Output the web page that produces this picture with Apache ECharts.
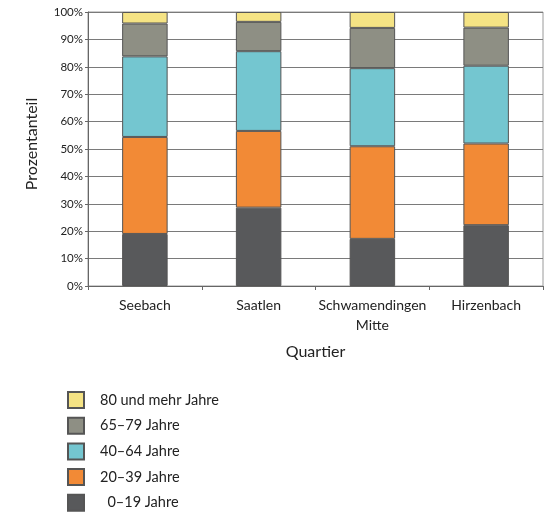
<!DOCTYPE html>
<html>
<head>
<meta charset="utf-8">
<script src="https://cdn.jsdelivr.net/npm/echarts@6/dist/echarts.min.js"></script>
<style>
html,body{margin:0;padding:0;background:#fff;}
#chart{width:546px;height:514px;}
</style>
</head>
<body>
<div id="chart"></div>
<script>
var categories = ['Seebach', 'Saatlen', 'Schwamendingen\nMitte', 'Hirzenbach'];
var yTicks = [0, 10, 20, 30, 40, 50, 60, 70, 80, 90, 100];
var age0_19 = [19.0, 28.6, 17.2, 22.2];
var age20_39 = [35.4, 28.0, 33.8, 29.8];
var age40_64 = [29.4, 29.1, 28.5, 28.4];
var age65_79 = [12.0, 10.7, 14.7, 13.9];
var age80plus = [4.2, 3.6, 5.8, 5.7];
var seriesNames = ['  0\u201319 Jahre', '20\u201339 Jahre', '40\u201364 Jahre', '65\u201379 Jahre', '80 und mehr Jahre'];
var seriesColors = ['#58595b', '#f28a36', '#74c6d0', '#8e8f84', '#f5e384'];
var seriesData = [age0_19, age20_39, age40_64, age65_79, age80plus];

var font = 'Lato, "Open Sans", sans-serif';
var chart = echarts.init(document.getElementById('chart'), null, {renderer: 'canvas'});
var series = seriesData.map(function (d, i) {
  return {
    name: seriesNames[i],
    type: 'bar',
    stack: 'total',
    data: d,
    barWidth: '40%',
    itemStyle: {color: seriesColors[i], borderColor: '#555555', borderWidth: 1},
    emphasis: {disabled: true}
  };
});
chart.setOption({
  animation: false,
  backgroundColor: '#ffffff',
  textStyle: {fontFamily: font},
  grid: {left: 88, right: 3, top: 12, bottom: 228, show: true, borderColor: '#9a9a9a', borderWidth: 1},
  legend: {
    orient: 'vertical',
    left: 67,
    top: 391,
    height: 250,
    padding: 0,
    itemWidth: 16,
    itemHeight: 16,
    itemGap: 7.7,
    icon: 'rect',
    selectedMode: false,
    data: seriesNames.slice().reverse(),
    textStyle: {fontFamily: font, fontSize: 14.5, lineHeight: 16, color: '#222', padding: [0, 0, 0, 11]}
  },
  xAxis: {
    type: 'category',
    data: categories,
    name: 'Quartier',
    nameLocation: 'middle',
    nameGap: 58,
    nameTextStyle: {fontFamily: font, fontSize: 16, color: '#222'},
    axisLine: {lineStyle: {color: '#666', width: 1}},
    axisTick: {show: true, length: 4, lineStyle: {color: '#666'}},
    axisLabel: {fontFamily: font, fontSize: 14, color: '#222', margin: 9, lineHeight: 20, interval: 0}
  },
  yAxis: {
    type: 'value',
    min: 0,
    max: 100,
    interval: 10,
    name: 'Prozentanteil',
    nameLocation: 'middle',
    nameGap: 48,
    nameTextStyle: {fontFamily: font, fontSize: 16, color: '#222', padding: [0, 0, 0, 10]},
    axisLine: {show: true, lineStyle: {color: '#666', width: 1}},
    axisTick: {show: true, length: 3, lineStyle: {color: '#666'}},
    axisLabel: {fontFamily: font, fontSize: 11.5, color: '#222', margin: 5,
      formatter: function (v) { return yTicks.indexOf(v) >= 0 ? v + '%' : ''; }},
    splitLine: {show: true, lineStyle: {color: '#7a7a7a', width: 1}}
  },
  series: series
});
</script>
</body>
</html>
